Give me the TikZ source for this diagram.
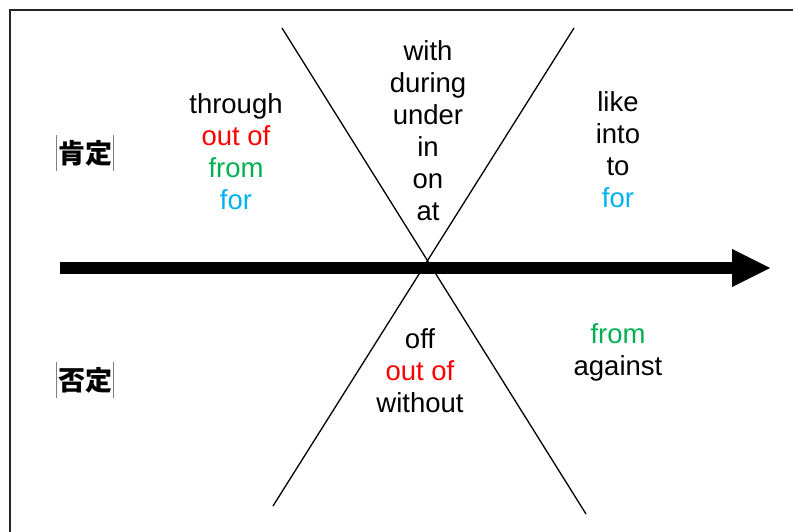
\documentclass[tikz,border=0pt]{standalone}
\usepackage{fontspec}
\setmainfont{Liberation Sans}
\newfontfamily\cjk{Noto Sans CJK JP}
\usetikzlibrary{arrows.meta}
\definecolor{pptred}{RGB}{255,0,0}
\definecolor{pptgreen}{RGB}{0,176,80}
\definecolor{pptblue}{RGB}{0,176,240}
\tikzset{
  words/.style={align=center, inner sep=0pt,
                font=\fontsize{27.5}{32}\selectfont},
  judge/.style={inner sep=0pt, minimum width=57pt, minimum height=35pt,
                font=\cjk\bfseries\fontsize{27}{30}\selectfont},
  judgebar/.style={draw=gray, line width=0.8pt},
  divider/.style={line width=1.3pt},
  timeline/.style={line width=12pt,
                   -{Triangle[length=38pt, width=38pt, line width=0pt]}},
}

\begin{document}
\begin{tikzpicture}[x=1pt, y=-1pt]
  \useasboundingbox (0,0) rectangle (793,532);
  \draw[line width=2pt, black!85] (10,532) -- (10,10) -- (793,10);

  % the two crossing lines
  \coordinate (ul) at (282,28);
  \coordinate (lr) at (586,514);
  \coordinate (ur) at (574,28);
  \coordinate (ll) at (273,506);
  \draw[divider] (ul) -- (lr);
  \draw[divider] (ur) -- (ll);

  % time axis
  \coordinate (tstart) at (60,268);
  \coordinate (tend) at (770,268);
  \draw[timeline] (tstart) -- (tend);

  % row labels
  \node[judge] (pos) at (85,153) {肯定};
  \node[judge] (neg) at (85,380) {否定};
  \foreach \lbl in {pos, neg} {
    \draw[judgebar] (\lbl.north west) -- (\lbl.south west);
    \draw[judgebar] (\lbl.north east) -- (\lbl.south east);
  }

  % prepositions
  \node[words] (before) at (236,152)
    {through\\\textcolor{pptred}{out of}\\\textcolor{pptgreen}{from}\\\textcolor{pptblue}{for}};
  \node[words] (during) at (428,131)
    {with\\during\\under\\in\\on\\at};
  \node[words] (after) at (618,150)
    {like\\into\\to\\\textcolor{pptblue}{for}};
  \node[words] (apart) at (420,371)
    {off\\\textcolor{pptred}{out of}\\without};
  \node[words] (opposed) at (618,352)
    {\textcolor{pptgreen}{from}\\against};
\end{tikzpicture}
\end{document}
